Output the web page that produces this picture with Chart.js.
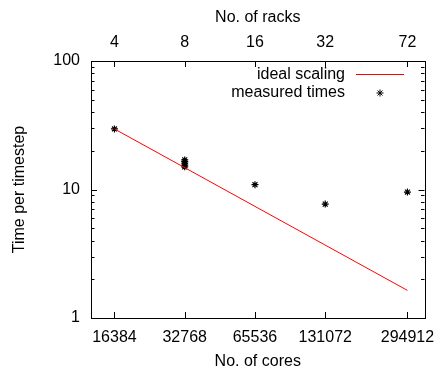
<!DOCTYPE html>
<html>
<head>
<meta charset="utf-8">
<script src="https://cdn.jsdelivr.net/npm/chart.js@4.4.1/dist/chart.umd.min.js"></script>
<style>
  html, body { margin: 0; padding: 0; background: #fff; }
  #wrap { width: 441px; height: 372px; }
</style>
</head>
<body>
<div id="wrap"><canvas id="myChart" width="441" height="372"></canvas></div>
<script>
// values
const coreTicks = [16384, 32768, 65536, 131072, 294912];
const rackTicks = [4, 8, 16, 32, 72];
const yTicks = [1, 2, 3, 4, 5, 6, 7, 8, 9, 10, 20, 30, 40, 50, 60, 70, 80, 90, 100];
const yTickLabels = [1, 10, 100];

const idealCores = [16384, 294912];
const idealTimes = [29.6, 1.64];

const measuredCores = [16384, 32768, 32768, 32768, 32768, 32768, 65536, 131072, 294912];
const measuredTimes = [29.6, 17.0, 16.5, 16.0, 15.5, 15.0, 10.9, 7.7, 9.55];

const coresPerRack = 4096;
const xMin = 13000, xMax = 349000;

const FONT = { family: "'Liberation Sans', Arial, sans-serif", size: 16 };

// gnuplot style inward ticks, frame and key
const frameAndKey = {
  id: 'frameAndKey',
  afterDraw(chart) {
    const ctx = chart.ctx;
    const a = chart.chartArea;
    const x = chart.scales.x, x2 = chart.scales.x2, y = chart.scales.y;
    ctx.save();
    ctx.strokeStyle = '#000';
    ctx.lineWidth = 1;
    ctx.beginPath();
    coreTicks.forEach(v => {
      const px = Math.round(x.getPixelForValue(v)) + 0.5;
      ctx.moveTo(px, a.bottom);
      ctx.lineTo(px, a.bottom - 6);
    });
    rackTicks.forEach(v => {
      const px = Math.round(x2.getPixelForValue(v)) + 0.5;
      ctx.moveTo(px, a.top);
      ctx.lineTo(px, a.top + 6);
    });
    yTicks.forEach(v => {
      const len = yTickLabels.includes(v) ? 6 : 3.5;
      const py = Math.round(y.getPixelForValue(v)) + 0.5;
      ctx.moveTo(a.left, py);
      ctx.lineTo(a.left + len, py);
      ctx.moveTo(a.right, py);
      ctx.lineTo(a.right - len, py);
    });
    ctx.stroke();
    ctx.strokeRect(Math.round(a.left) + 0.5, Math.round(a.top) + 0.5,
      Math.round(a.right - a.left), Math.round(a.bottom - a.top));

    // key
    const textRight = 345;
    ctx.font = FONT.size + 'px ' + FONT.family;
    ctx.textAlign = 'right';
    ctx.textBaseline = 'middle';
    chart.data.datasets.forEach((ds, i) => {
      const ky = 75 + i * 17.5;
      ctx.fillStyle = '#000';
      ctx.fillText(ds.label, textRight, ky);
      if (ds.showLine) {
        ctx.strokeStyle = '#ff0000';
        ctx.beginPath();
        ctx.moveTo(356, 74.5);
        ctx.lineTo(404, 74.5);
        ctx.stroke();
      } else {
        ctx.strokeStyle = '#000';
        Chart.helpers.drawPoint(ctx, {
          pointStyle: ds.pointStyle, radius: ds.pointRadius, borderWidth: ds.borderWidth, rotation: 0
        }, 380, 93);
      }
    });
    ctx.restore();
  }
};

const fixedTicks = (values) => (scale) => {
  scale.ticks = values.map(v => ({ value: v }));
};
const noSidePad = (h) => (s) => {
  s.height = h;
  s.paddingLeft = 0;
  s.paddingRight = 0;
};

new Chart(document.getElementById('myChart'), {
  type: 'scatter',
  data: {
    datasets: [
      {
        label: 'ideal scaling',
        data: idealCores.map((c, i) => ({ x: c, y: idealTimes[i] })),
        showLine: true,
        borderColor: '#ff0000',
        borderWidth: 1,
        pointRadius: 0,
        pointHoverRadius: 0
      },
      {
        label: 'measured times',
        data: measuredCores.map((c, i) => ({ x: c, y: measuredTimes[i] })),
        showLine: false,
        borderColor: '#000',
        backgroundColor: '#000',
        borderWidth: 1.2,
        pointStyle: 'star',
        pointRadius: 3.5,
        pointHoverRadius: 3.5
      }
    ]
  },
  options: {
    responsive: false,
    animation: false,
    devicePixelRatio: 1,
    layout: { padding: { left: 0, right: 16.5, top: 0, bottom: 0 } },
    plugins: { legend: { display: false }, tooltip: { enabled: false } },
    scales: {
      x: {
        type: 'logarithmic',
        position: 'bottom',
        min: xMin,
        max: xMax,
        afterBuildTicks: fixedTicks(coreTicks),
        afterFit: noSidePad(54),
        grid: { display: false, drawTicks: false },
        border: { display: false },
        ticks: {
          color: '#000', font: FONT, padding: 10, autoSkip: false, maxRotation: 0,
          callback: (v) => String(v)
        },
        title: { display: true, text: 'No. of cores', color: '#000', font: FONT, padding: { top: 0, bottom: 1 } }
      },
      x2: {
        type: 'logarithmic',
        position: 'top',
        min: xMin / coresPerRack,
        max: xMax / coresPerRack,
        afterBuildTicks: fixedTicks(rackTicks),
        afterFit: noSidePad(61),
        grid: { display: false, drawTicks: false },
        border: { display: false },
        ticks: {
          color: '#000', font: FONT, padding: 9, autoSkip: false, maxRotation: 0,
          callback: (v) => String(v)
        },
        title: { display: true, text: 'No. of racks', color: '#000', font: FONT, padding: { top: 8, bottom: 0 } }
      },
      y: {
        type: 'logarithmic',
        position: 'left',
        min: 1,
        max: 100,
        afterBuildTicks: fixedTicks(yTicks),
        afterFit: (s) => { s.width = 91; s.paddingTop = 0; s.paddingBottom = 0; },
        grid: { display: false, drawTicks: false },
        border: { display: false },
        ticks: {
          color: '#000', font: FONT, padding: 11, autoSkip: false,
          callback: (v) => yTickLabels.includes(v) ? String(v) : ''
        },
        title: { display: true, text: 'Time per timestep', color: '#000', font: FONT, padding: { top: 10, bottom: 0 } }
      }
    }
  },
  plugins: [frameAndKey]
});
</script>
</body>
</html>
